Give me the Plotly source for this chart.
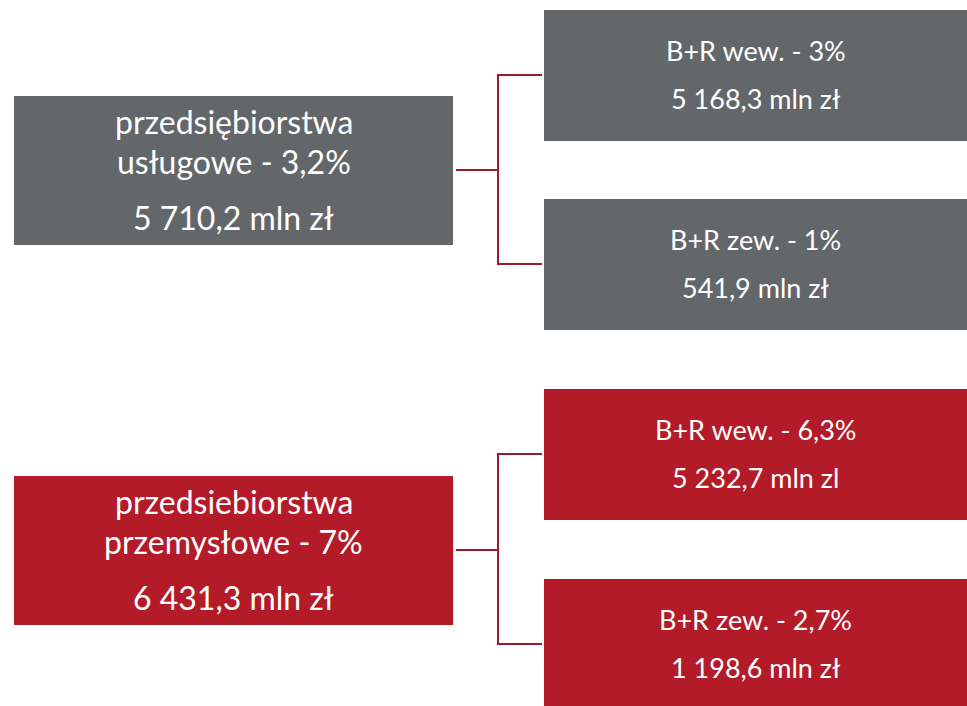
import plotly.graph_objects as go

# ---- data ----
sector_names = ["przedsiębiorstwa\nusługowe", "przedsiebiorstwa\nprzemysłowe"]
sector_share = [3.2, 7.0]
sector_value = [5710.2, 6431.3]
sector_unit = ["mln zł", "mln zł"]

sub_names = ["B+R wew.", "B+R zew."]
sub_share = [[3.0, 1.0], [6.3, 2.7]]
sub_value = [[5168.3, 541.9], [5232.7, 1198.6]]
sub_unit = [["mln zł", "mln zł"], ["mln zl", "mln zł"]]

colors = ["#63676A", "#B31B29"]
line_color = "#9B1B2A"
FONT = "Lato"

def fmt_num(v):
    s = f"{v:,.1f}"
    return s.replace(",", " ").replace(".", ",")

def fmt_pct(v):
    s = f"{v:g}"
    return s.replace(".", ",") + "%"

# ---- layout geometry (pixels) ----
left_x0, left_x1 = 14, 453
left_y0 = [96, 476]
left_h = 149
right_x0, right_x1 = 544, 967
right_y0 = [[10, 199], [389, 579]]
right_h = 131
bracket_x = 498
conn_start = 456

fig = go.Figure()
shapes = []
annotations = []

for g in range(2):
    col = colors[g]
    y0 = left_y0[g]
    shapes.append(dict(type="rect", xref="x", yref="y", x0=left_x0, x1=left_x1,
                       y0=y0, y1=y0 + left_h, fillcolor=col, line=dict(width=0), layer="below"))
    cx = (left_x0 + left_x1) / 2
    l1, l2 = sector_names[g].split("\n")
    lines = [(l1, y0 + 25), (f"{l2} - {fmt_pct(sector_share[g])}", y0 + 65),
             (f"{fmt_num(sector_value[g])} {sector_unit[g]}", y0 + 121)]
    for txt, yy in lines:
        annotations.append(dict(x=cx, y=yy, xref="x", yref="y", text=txt, showarrow=False,
                                xanchor="center", yanchor="middle",
                                font=dict(family=FONT, size=32, color="white")))
    mids = []
    for k in range(2):
        ry = right_y0[g][k]
        shapes.append(dict(type="rect", xref="x", yref="y", x0=right_x0, x1=right_x1,
                           y0=ry, y1=ry + right_h, fillcolor=col, line=dict(width=0), layer="below"))
        rcx = (right_x0 + right_x1) / 2
        annotations.append(dict(x=rcx, y=ry + 40, xref="x", yref="y",
                                text=f"{sub_names[k]} - {fmt_pct(sub_share[g][k])}",
                                showarrow=False, xanchor="center", yanchor="middle",
                                font=dict(family=FONT, size=27, color="white")))
        annotations.append(dict(x=rcx, y=ry + 88, xref="x", yref="y",
                                text=f"{fmt_num(sub_value[g][k])} {sub_unit[g][k]}",
                                showarrow=False, xanchor="center", yanchor="middle",
                                font=dict(family=FONT, size=27, color="white")))
        mids.append(ry + 65)
    lm = y0 + 74
    path = (f"M {conn_start},{lm} L {bracket_x},{lm} "
            f"M {right_x0 - 2},{mids[0]} L {bracket_x},{mids[0]} L {bracket_x},{mids[1]} L {right_x0 - 2},{mids[1]}")
    shapes.append(dict(type="path", xref="x", yref="y", path=path,
                       line=dict(color=line_color, width=2)))

fig.update_layout(
    width=967, height=706,
    margin=dict(l=0, r=0, t=0, b=0),
    paper_bgcolor="white", plot_bgcolor="white",
    xaxis=dict(range=[0, 967], visible=False, fixedrange=True),
    yaxis=dict(range=[706, 0], visible=False, fixedrange=True),
    shapes=shapes, annotations=annotations, showlegend=False,
)
fig.write_html("out.html", config={"displayModeBar": False},
               post_script="document.body.style.margin='0px';document.body.style.overflow='hidden';")
